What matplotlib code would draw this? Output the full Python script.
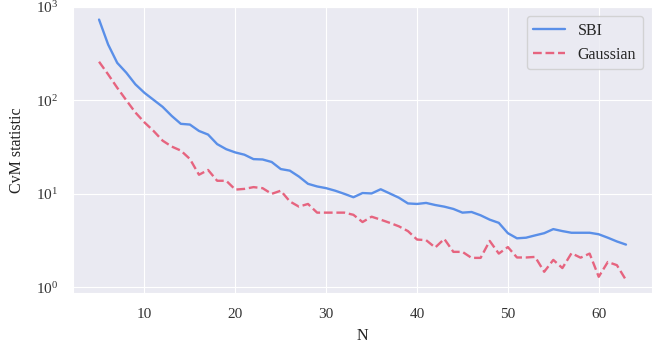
import matplotlib
matplotlib.use('Agg')
import matplotlib.pyplot as plt
import numpy as np
import seaborn as sns

n_values = list(range(5, 64))

sbi = [728, 394, 251, 197, 148, 120, 101, 85, 68, 56,
       55, 47, 43, 34, 30, 27.7, 26.2, 23.5, 23.3, 21.9,
       18.4, 17.7, 15.3, 12.8, 12.0, 11.5, 10.8, 10.0, 9.2, 10.2,
       10.1, 11.2, 10.1, 9.1, 7.9, 7.8, 8.0, 7.6, 7.3, 6.9,
       6.3, 6.4, 5.9, 5.3, 4.9, 3.8, 3.35, 3.4, 3.6, 3.8,
       4.2, 4.0, 3.84, 3.84, 3.84, 3.7, 3.4, 3.1, 2.87]

gaussian = [258, 189, 136, 100, 74, 58, 47, 37, 32, 29,
            23.6, 16.0, 18.0, 13.8, 13.8, 11.1, 11.3, 11.8, 11.5, 10.0,
            10.8, 8.3, 7.3, 7.8, 6.3, 6.3, 6.3, 6.3, 5.97, 5.0,
            5.7, 5.3, 4.9, 4.5, 4.0, 3.25, 3.2, 2.67, 3.3, 2.4,
            2.4, 2.07, 2.07, 3.14, 2.3, 2.7, 2.09, 2.09, 2.12, 1.47,
            1.97, 1.61, 2.32, 2.08, 2.3, 1.30, 1.87, 1.73, 1.20]

sns.set_style('darkgrid')
plt.rcParams['font.family'] = ['Liberation Serif', 'DejaVu Serif']
plt.rcParams['mathtext.fontset'] = 'cm'

fig = plt.figure(figsize=(6.67, 3.51), dpi=100)
ax = fig.add_axes([0.109, 0.164, 0.869, 0.817])
ax.plot(n_values, sbi, color='#5A8FE8', lw=1.7, label='SBI')
ax.plot(n_values, gaussian, color='#E6647F', lw=1.7, ls='--', label='Gaussian')
ax.set_yscale('log')
ax.set_ylim(10 ** -0.064, 10 ** 3.0)
ax.set_xlim(2.1, 65.9)
ax.set_xticks([10, 20, 30, 40, 50, 60])
ax.tick_params(labelsize=11, colors='#333333', pad=7)
ax.set_xlabel('N', fontsize=11.5, color='#222222', labelpad=5)
ax.set_ylabel('CvM statistic', fontsize=11.5, color='#222222', labelpad=8)
ax.legend(loc='upper right', fontsize=11.5, frameon=True, borderaxespad=0.6)

fig.savefig('out.png', dpi=100)
